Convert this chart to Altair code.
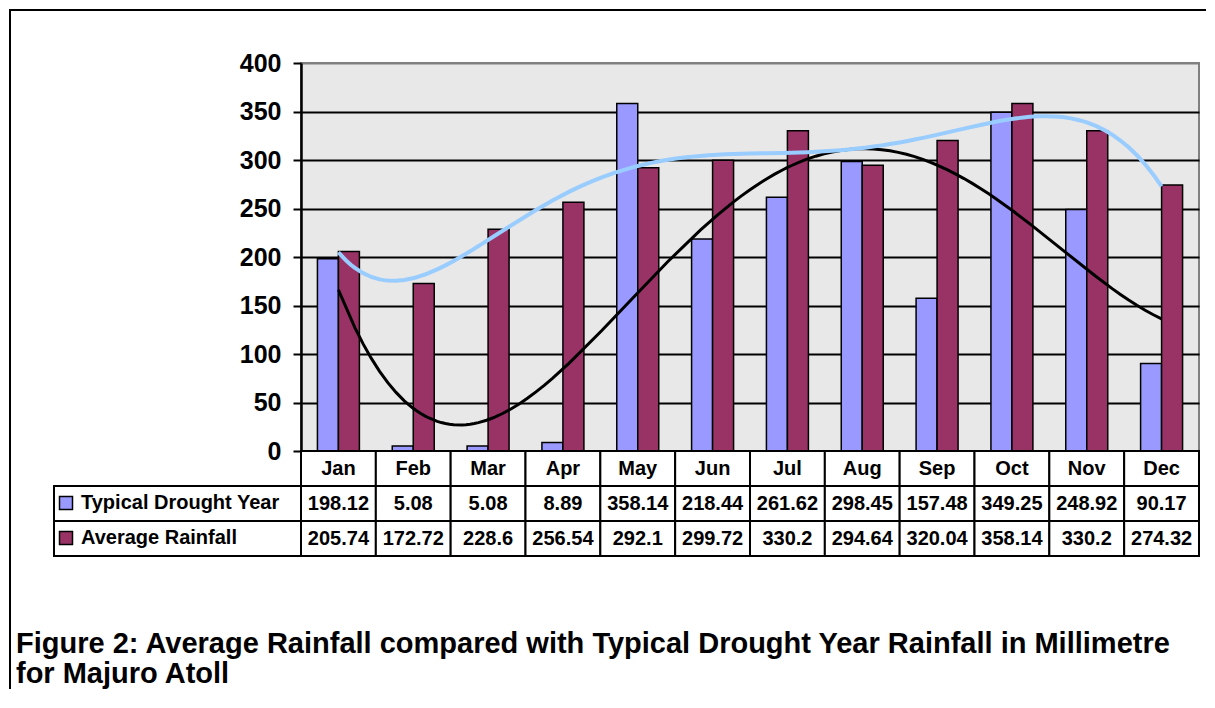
import altair as alt
import pandas as pd

# ---------------- data ----------------
months = ["Jan", "Feb", "Mar", "Apr", "May", "Jun", "Jul", "Aug", "Sep", "Oct", "Nov", "Dec"]
drought = [198.12, 5.08, 5.08, 8.89, 358.14, 218.44, 261.62, 298.45, 157.48, 349.25, 248.92, 90.17]
average = [205.74, 172.72, 228.6, 256.54, 292.1, 299.72, 330.2, 294.64, 320.04, 358.14, 330.2, 274.32]
series_names = ["Typical Drought Year", "Average Rainfall"]
y_ticks = [0, 50, 100, 150, 200, 250, 300, 350, 400]
caption = [
    "Figure 2: Average Rainfall compared with Typical Drought Year Rainfall in Millimetre",
    "for Majuro Atoll",
]

# ---------------- styles ----------------
FONT = "Liberation Sans, Arial, sans-serif"
bar_colors = ["#9999FF", "#993366"]
PLOT_W, PLOT_H = 898, 388
LEG_W = 247
TABLE_H = 105

rows = []
for i, m in enumerate(months):
    for s, vals in zip(series_names, [drought, average]):
        rows.append({"month": m, "idx": i + 1, "series": s, "value": vals[i], "label": f"{vals[i]:g}"})
df = pd.DataFrame(rows)

row_keys = ["header"] + series_names
tab_df = pd.concat(
    [
        pd.DataFrame({"month": months, "row": "header", "text": months}),
        pd.DataFrame({"month": df["month"], "row": df["series"], "text": df["label"]}),
    ],
    ignore_index=True,
)

# ---------------- main plot ----------------
base = alt.Chart(df)

bars = base.mark_bar(stroke="black", strokeWidth=1.5).encode(
    x=alt.X("month:N", sort=months,
            scale=alt.Scale(domain=months, paddingInner=0.439, paddingOuter=0.2195),
            axis=None),
    xOffset=alt.XOffset("series:N", sort=series_names,
                        scale=alt.Scale(domain=series_names, paddingInner=0, paddingOuter=0)),
    y=alt.Y("value:Q", scale=alt.Scale(domain=[0, 400], nice=False),
            axis=alt.Axis(values=y_ticks, title=None, labelFont=FONT, labelFontSize=25,
                          labelFontWeight="bold", labelColor="black", labelPadding=12,
                          labelFlush=False, labelOverlap=False,
                          tickColor="black", tickSize=8, tickWidth=2,
                          domainColor="black", domainWidth=2.5,
                          grid=True, gridWidth=2,
                          gridColor={"condition": {"test": "datum.value >= 400", "value": "#808080"},
                                     "value": "black"})),
    color=alt.Color("series:N",
                    scale=alt.Scale(domain=series_names, range=bar_colors),
                    legend=alt.Legend(title=None, orient="none", legendX=-245, legendY=430,
                                      direction="vertical", symbolType="square", symbolSize=169,
                                      symbolStrokeColor="black", symbolStrokeWidth=1.5,
                                      symbolOpacity=1, labelFont=FONT, labelFontSize=20,
                                      labelFontWeight="bold", labelColor="black", labelOffset=5,
                                      labelLimit=400, rowPadding=15, padding=0)),
)

x_num = alt.X("idx:Q", scale=alt.Scale(domain=[0.5, 12.5], nice=False, zero=False), axis=None)

trend_drought = base.transform_filter(alt.datum.series == series_names[0]).transform_regression(
    "idx", "value", method="poly", order=4
).mark_line(color="black", strokeWidth=3).encode(x=x_num, y="value:Q")

trend_average = base.transform_filter(alt.datum.series == series_names[1]).transform_regression(
    "idx", "value", method="poly", order=6
).mark_line(color="#99CCFF", strokeWidth=4).encode(x=x_num, y="value:Q")

top = alt.layer(bars, trend_drought, trend_average).resolve_scale(x="independent").properties(
    width=PLOT_W, height=PLOT_H,
    view=alt.ViewBackground(fill="#e8e8e8", stroke="#808080", strokeWidth=2),
)

# ---------------- frame (decorative border) ----------------
frame_df = pd.DataFrame({"f": [0]})
frame_left = alt.Chart(frame_df).mark_rule(color="black", strokeWidth=2, clip=False).encode(
    x=alt.value(-44), y=alt.value(-54), y2=alt.value(626))
frame_top = alt.Chart(frame_df).mark_rule(color="black", strokeWidth=2, clip=False).encode(
    x=alt.value(-45), x2=alt.value(1152), y=alt.value(-53))
frame = alt.layer(frame_left, frame_top).properties(
    width=LEG_W, height=PLOT_H, view=alt.ViewBackground(stroke=None))

# ---------------- legend column of table (with figure caption) ----------------
legend_table = alt.Chart(pd.DataFrame({"row": series_names})).mark_rect(
    fillOpacity=0, stroke="black", strokeWidth=2
).encode(
    y=alt.Y("row:N", scale=alt.Scale(domain=row_keys, paddingInner=0, paddingOuter=0), axis=None)
).properties(
    width=LEG_W, height=TABLE_H, view=alt.ViewBackground(stroke=None),
    title=alt.TitleParams(text=caption, orient="bottom", anchor="start", frame="group",
                          font=FONT, fontSize=29, fontWeight="bold", color="black",
                          offset=73, dx=-38, lineHeight=30, baseline="top"),
)

# ---------------- data table ----------------
cells = alt.Chart(tab_df).mark_rect(fill="white", stroke="black", strokeWidth=2).encode(
    x=alt.X("month:N", sort=months,
            scale=alt.Scale(domain=months, paddingInner=0, paddingOuter=0), axis=None),
    y=alt.Y("row:N", scale=alt.Scale(domain=row_keys, paddingInner=0, paddingOuter=0), axis=None),
)
texts = cells.mark_text(font=FONT, fontSize=20, fontWeight="bold", color="black",
                        baseline="middle", align="center").encode(text="text:N")
data_table = alt.layer(cells, texts).properties(
    width=PLOT_W, height=TABLE_H, view=alt.ViewBackground(stroke=None))

chart = alt.concat(
    frame, top, legend_table, data_table, columns=2, spacing=0, bounds="flush"
).resolve_scale(
    x="independent", y="independent", color="independent"
).properties(
    padding={"left": 0, "top": 0, "right": 0, "bottom": 0},
    background="white",
).configure_view(stroke=None)

chart.save("out.html", embed_options={"renderer": "svg", "actions": False})
